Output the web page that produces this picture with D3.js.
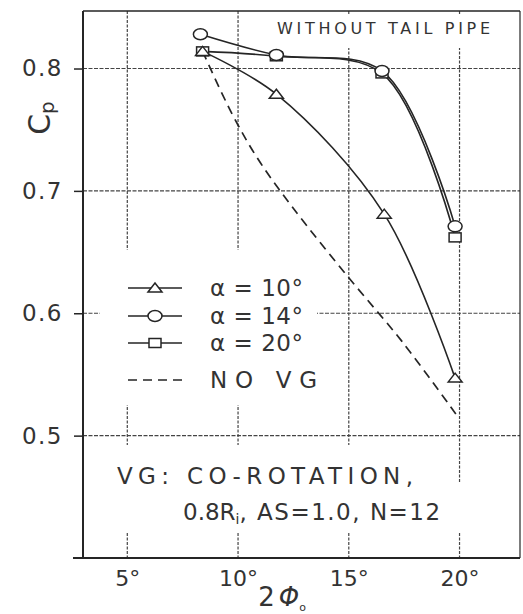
<!DOCTYPE html>
<html>
<head>
<meta charset="utf-8">
<script src="https://cdn.jsdelivr.net/npm/d3@7/dist/d3.min.js"></script>
<style>
  html, body { margin: 0; padding: 0; background: #fff; }
  svg { display: block; }
  text { font-family: "DejaVu Sans", sans-serif; fill: #333; }
</style>
</head>
<body>
<svg id="chart" width="523" height="614"></svg>
<script>
// ---- data ----
const xTicks = [5, 10, 15, 20];
const yTicks = [0.5, 0.6, 0.7, 0.8];
const seriesNames = ["α = 10°", "α = 14°", "α = 20°", "NO VG"];
const seriesMarkers = ["triangle", "circle", "square", "none"];
const alpha10X = [8.4, 11.73, 16.6, 19.8];
const alpha10Y = [0.814, 0.779, 0.681, 0.547];
const alpha14X = [8.3, 11.73, 16.5, 19.8];
const alpha14Y = [0.828, 0.811, 0.798, 0.671];
const alpha20X = [8.4, 11.73, 16.5, 19.8];
const alpha20Y = [0.814, 0.810, 0.796, 0.662];
const noVgX = [8.4, 9.7, 10.9, 12.4, 15.0, 17.4, 19.9];
const noVgY = [0.814, 0.764, 0.726, 0.688, 0.629, 0.577, 0.516];
const titleText = "WITHOUT TAIL PIPE";
const noteLine1 = "VG: CO-ROTATION,";
const noteLine2a = "0.8R";
const noteLine2b = "i";
const noteLine2c = ", AS=1.0, N=12";

// ---- layout ----
const svg = d3.select("#chart");
const L = 83, R = 520, T = 11, B = 558;
const x = d3.scaleLinear().domain([3, 22.73]).range([L, R]);
const y = d3.scaleLinear().domain([0.4, 0.847]).range([B, T]);

const ink = "#252525";

// gridlines
const grid = svg.append("g");
grid.selectAll("line.vx").data(xTicks).join("line")
  .attr("x1", d => x(d)).attr("x2", d => x(d))
  .attr("y1", T).attr("y2", B)
  .attr("stroke", "#444").attr("stroke-width", 1.2).attr("stroke-dasharray", "3,1.5");
grid.selectAll("line.hy").data(yTicks).join("line")
  .attr("x1", L).attr("x2", R)
  .attr("y1", d => y(d)).attr("y2", d => y(d))
  .attr("stroke", "#444").attr("stroke-width", 1.2).attr("stroke-dasharray", "4,1.5");

// masks (gaps in grid behind texts)
const masks = [
  [265, 14, 240, 34],
  [100, 250, 217, 155],
  [100, 445, 340, 88],
  [440, 483, 40, 50]
];
svg.append("g").selectAll("rect").data(masks).join("rect")
  .attr("x", d => d[0]).attr("y", d => d[1]).attr("width", d => d[2]).attr("height", d => d[3])
  .attr("fill", "#fff");

// frame
const frame = svg.append("g").attr("stroke", ink).attr("fill", "none");
frame.append("line").attr("x1", L).attr("x2", L).attr("y1", T).attr("y2", B).attr("stroke-width", 2);
frame.append("line").attr("x1", 73).attr("x2", R).attr("y1", B).attr("y2", B).attr("stroke-width", 2);
frame.append("line").attr("x1", L).attr("x2", R).attr("y1", T).attr("y2", T).attr("stroke-width", 1.6);
frame.append("line").attr("x1", R).attr("x2", R).attr("y1", T).attr("y2", B).attr("stroke-width", 1.2);

// axes
const yAxis = svg.append("g").attr("transform", `translate(${L},0)`)
  .call(d3.axisLeft(y).tickValues(yTicks).tickSize(9).tickPadding(11).tickFormat(d3.format(".1f")));
yAxis.select(".domain").remove();
yAxis.selectAll("line").attr("stroke", ink).attr("stroke-width", 1.5);
yAxis.selectAll("text").attr("font-size", 23).attr("fill", "#333")
  .attr("font-family", "DejaVu Sans").attr("letter-spacing", 1.5);

const xAxis = svg.append("g").attr("transform", `translate(0,${B})`)
  .call(d3.axisBottom(x).tickValues(xTicks).tickSize(0).tickPadding(12).tickFormat(d => d + "°"));
xAxis.select(".domain").remove();
xAxis.selectAll("text").attr("font-size", 22).attr("fill", "#333")
  .attr("font-family", "DejaVu Sans");

// axis titles
const yt = svg.append("text").attr("transform", "translate(50,118) rotate(-90)")
  .attr("text-anchor", "middle").attr("font-size", 30);
yt.append("tspan").text("C");
yt.append("tspan").attr("font-size", 20).attr("dy", 4).text("p");

const xt = svg.append("text").attr("x", 282).attr("y", 606)
  .attr("text-anchor", "middle").attr("font-size", 26);
xt.append("tspan").text("2");
xt.append("tspan").attr("dx", 4).attr("font-style", "italic").text("Φ");
xt.append("tspan").attr("font-size", 11).attr("dy", 5).text("o");

// lines
const toPts = (xs, ys) => xs.map((v, i) => [v, ys[i]]);
const lineGen = d3.line().x(d => x(d[0])).y(d => y(d[1])).curve(d3.curveCatmullRom.alpha(0.5));
const seriesData = [
  toPts(alpha10X, alpha10Y),
  toPts(alpha14X, alpha14Y),
  toPts(alpha20X, alpha20Y),
  toPts(noVgX, noVgY)
];
const plot = svg.append("g");
seriesData.forEach((pts, i) => {
  plot.append("path").attr("d", lineGen(pts)).attr("fill", "none")
    .attr("stroke", ink).attr("stroke-width", i === 3 ? 1.7 : 1.6)
    .attr("stroke-dasharray", i === 3 ? "9,6" : null);
});

function drawMarker(g, type, cx, cy) {
  if (type === "triangle") {
    g.append("path").attr("d", `M${cx - 7},${cy + 4} L${cx},${cy - 5} L${cx + 7},${cy + 4} Z`)
      .attr("fill", "#fff").attr("stroke", ink).attr("stroke-width", 1.5);
  } else if (type === "circle") {
    g.append("ellipse").attr("cx", cx).attr("cy", cy).attr("rx", 7).attr("ry", 5.5)
      .attr("fill", "#fff").attr("stroke", ink).attr("stroke-width", 1.5);
  } else if (type === "square") {
    g.append("rect").attr("x", cx - 6).attr("y", cy - 4.5).attr("width", 12).attr("height", 9)
      .attr("fill", "#fff").attr("stroke", ink).attr("stroke-width", 1.5);
  }
}
[2, 0, 1].forEach(i => {
  seriesData[i].forEach(p => drawMarker(plot, seriesMarkers[i], x(p[0]), y(p[1])));
});

// legend
const legRows = [288, 316, 343, 380];
const leg = svg.append("g");
seriesNames.forEach((name, i) => {
  const ly = legRows[i];
  leg.append("line").attr("x1", 128).attr("x2", 182).attr("y1", ly).attr("y2", ly)
    .attr("stroke", ink).attr("stroke-width", 1.6)
    .attr("stroke-dasharray", i === 3 ? "9,6" : null);
  drawMarker(leg, seriesMarkers[i], 155, ly);
  leg.append("text").attr("x", 210).attr("y", ly + 8).attr("font-size", 23)
    .attr("textLength", i === 3 ? 107 : 93).attr("lengthAdjust", "spacing")
    .text(name);
});

// title
svg.append("text").attr("x", 277).attr("y", 34).attr("font-size", 16)
  .attr("textLength", 213).attr("lengthAdjust", "spacing").text(titleText);

// note
svg.append("text").attr("x", 117).attr("y", 484).attr("font-size", 23)
  .attr("textLength", 296).attr("lengthAdjust", "spacing").text(noteLine1);
const n2 = svg.append("text").attr("x", 183).attr("y", 520).attr("font-size", 23);
n2.append("tspan").text(noteLine2a);
n2.append("tspan").attr("font-size", 14).attr("dy", 4).text(noteLine2b);
n2.append("tspan").attr("dy", -4).attr("letter-spacing", 1.5).text(noteLine2c);
</script>
</body>
</html>
